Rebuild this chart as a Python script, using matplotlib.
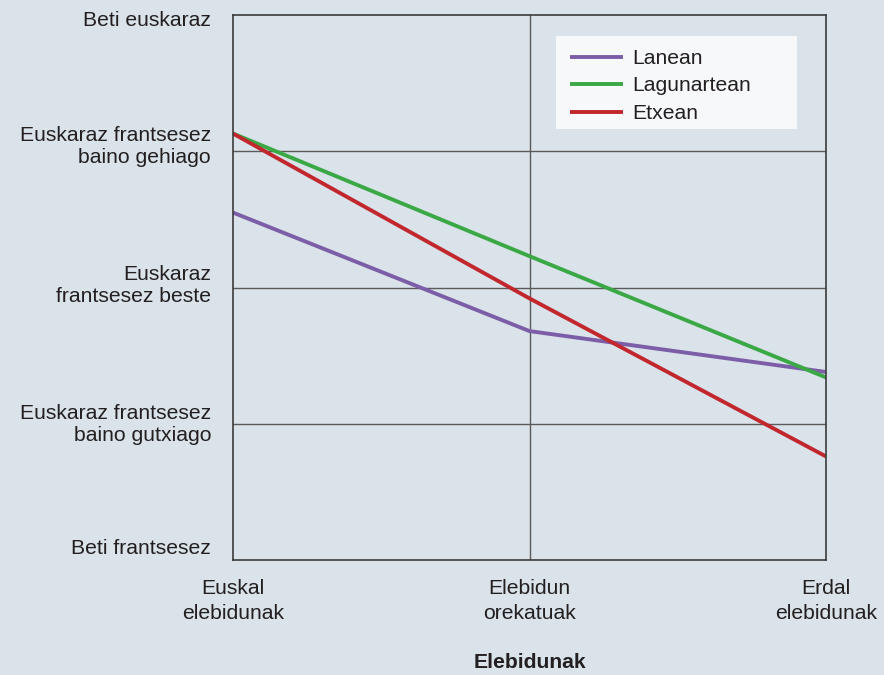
import matplotlib
import matplotlib.pyplot as plt
from matplotlib.patches import Rectangle
from matplotlib.transforms import ScaledTranslation

matplotlib.use("Agg")

BG = "#dae3ea"
GRID = "#5a5a5a"
TEXT = "#231f20"

categories = ["Euskal\nelebidunak", "Elebidun\norekatuak", "Erdal\nelebidunak"]
levels = [1, 2, 3, 4, 5]
level_labels = [
    "Beti frantsesez",
    "Euskaraz frantsesez\nbaino gutxiago",
    "Euskaraz\nfrantsesez beste",
    "Euskaraz frantsesez\nbaino gehiago",
    "Beti euskaraz",
]
# small vertical nudges (pixels) of the y labels, as placed in the original
label_nudge = [-11.5, 1, -2, -5, 5]

lanean = [3.55, 2.68, 2.38]
lagunartean = [4.13, 3.23, 2.34]
etxean = [4.13, 2.92, 1.76]

series = [
    ("Lanean", lanean, "#7b5ea7"),
    ("Lagunartean", lagunartean, "#3aa845"),
    ("Etxean", etxean, "#c1272d"),
]

FS = 15.2
plt.rcParams["font.family"] = ["Liberation Sans", "DejaVu Sans"]

fig = plt.figure(figsize=(8.84, 6.75), dpi=100, facecolor=BG)
ax = fig.add_axes([233 / 884, 1 - 560 / 675, 593 / 884, 545 / 675])
ax.set_facecolor(BG)

x = list(range(len(categories)))
for name, vals, color in series:
    ax.plot(x, vals, color=color, lw=2.8, label=name, solid_capstyle="butt", zorder=2)

ax.set_xlim(0, 2)
ax.set_ylim(1, 5)
ax.set_xticks(x, categories)
ax.set_yticks(levels, [""] * len(levels))

for y in levels[1:-1]:
    ax.axhline(y, color=GRID, lw=1.0, zorder=1)
ax.axvline(1, color=GRID, lw=1.0, zorder=1)

for s in ax.spines.values():
    s.set_color("#3a3a3a")
    s.set_linewidth(1.2)

ax.tick_params(axis="both", length=0, labelsize=FS, colors=TEXT)
ax.tick_params(axis="x", pad=14)
for lab in ax.get_xticklabels():
    lab.set_linespacing(1.4)

ytrans = ax.get_yaxis_transform()
for lvl, text, dy in zip(levels, level_labels, label_nudge):
    off = ScaledTranslation(-22 / 100, -dy / 100, fig.dpi_scale_trans)
    ax.text(0, lvl, text, transform=ytrans + off, ha="right", va="center",
            ma="right", fontsize=FS, color=TEXT, linespacing=1.2)

ax.set_xlabel("Elebidunak", fontsize=FS, fontweight="bold", color=TEXT, va="top")
ax.xaxis.set_label_coords(0.5, (560 - 653) / 545)

# legend background box
ax.add_patch(Rectangle((0.5447, 0.7908), 0.4064, 0.1707, transform=ax.transAxes,
                       facecolor="#f7f8fa", edgecolor="none", zorder=3))
leg = ax.legend(
    loc="upper left",
    bbox_to_anchor=(0.5683, 0.9376),
    fontsize=FS,
    frameon=False,
    handlelength=2.5,
    handletextpad=0.45,
    labelspacing=0.4,
    borderpad=0,
    borderaxespad=0,
)
leg.set_zorder(5)
for t in leg.get_texts():
    t.set_color(TEXT)

fig.savefig("out.png", dpi=100, facecolor=BG)
